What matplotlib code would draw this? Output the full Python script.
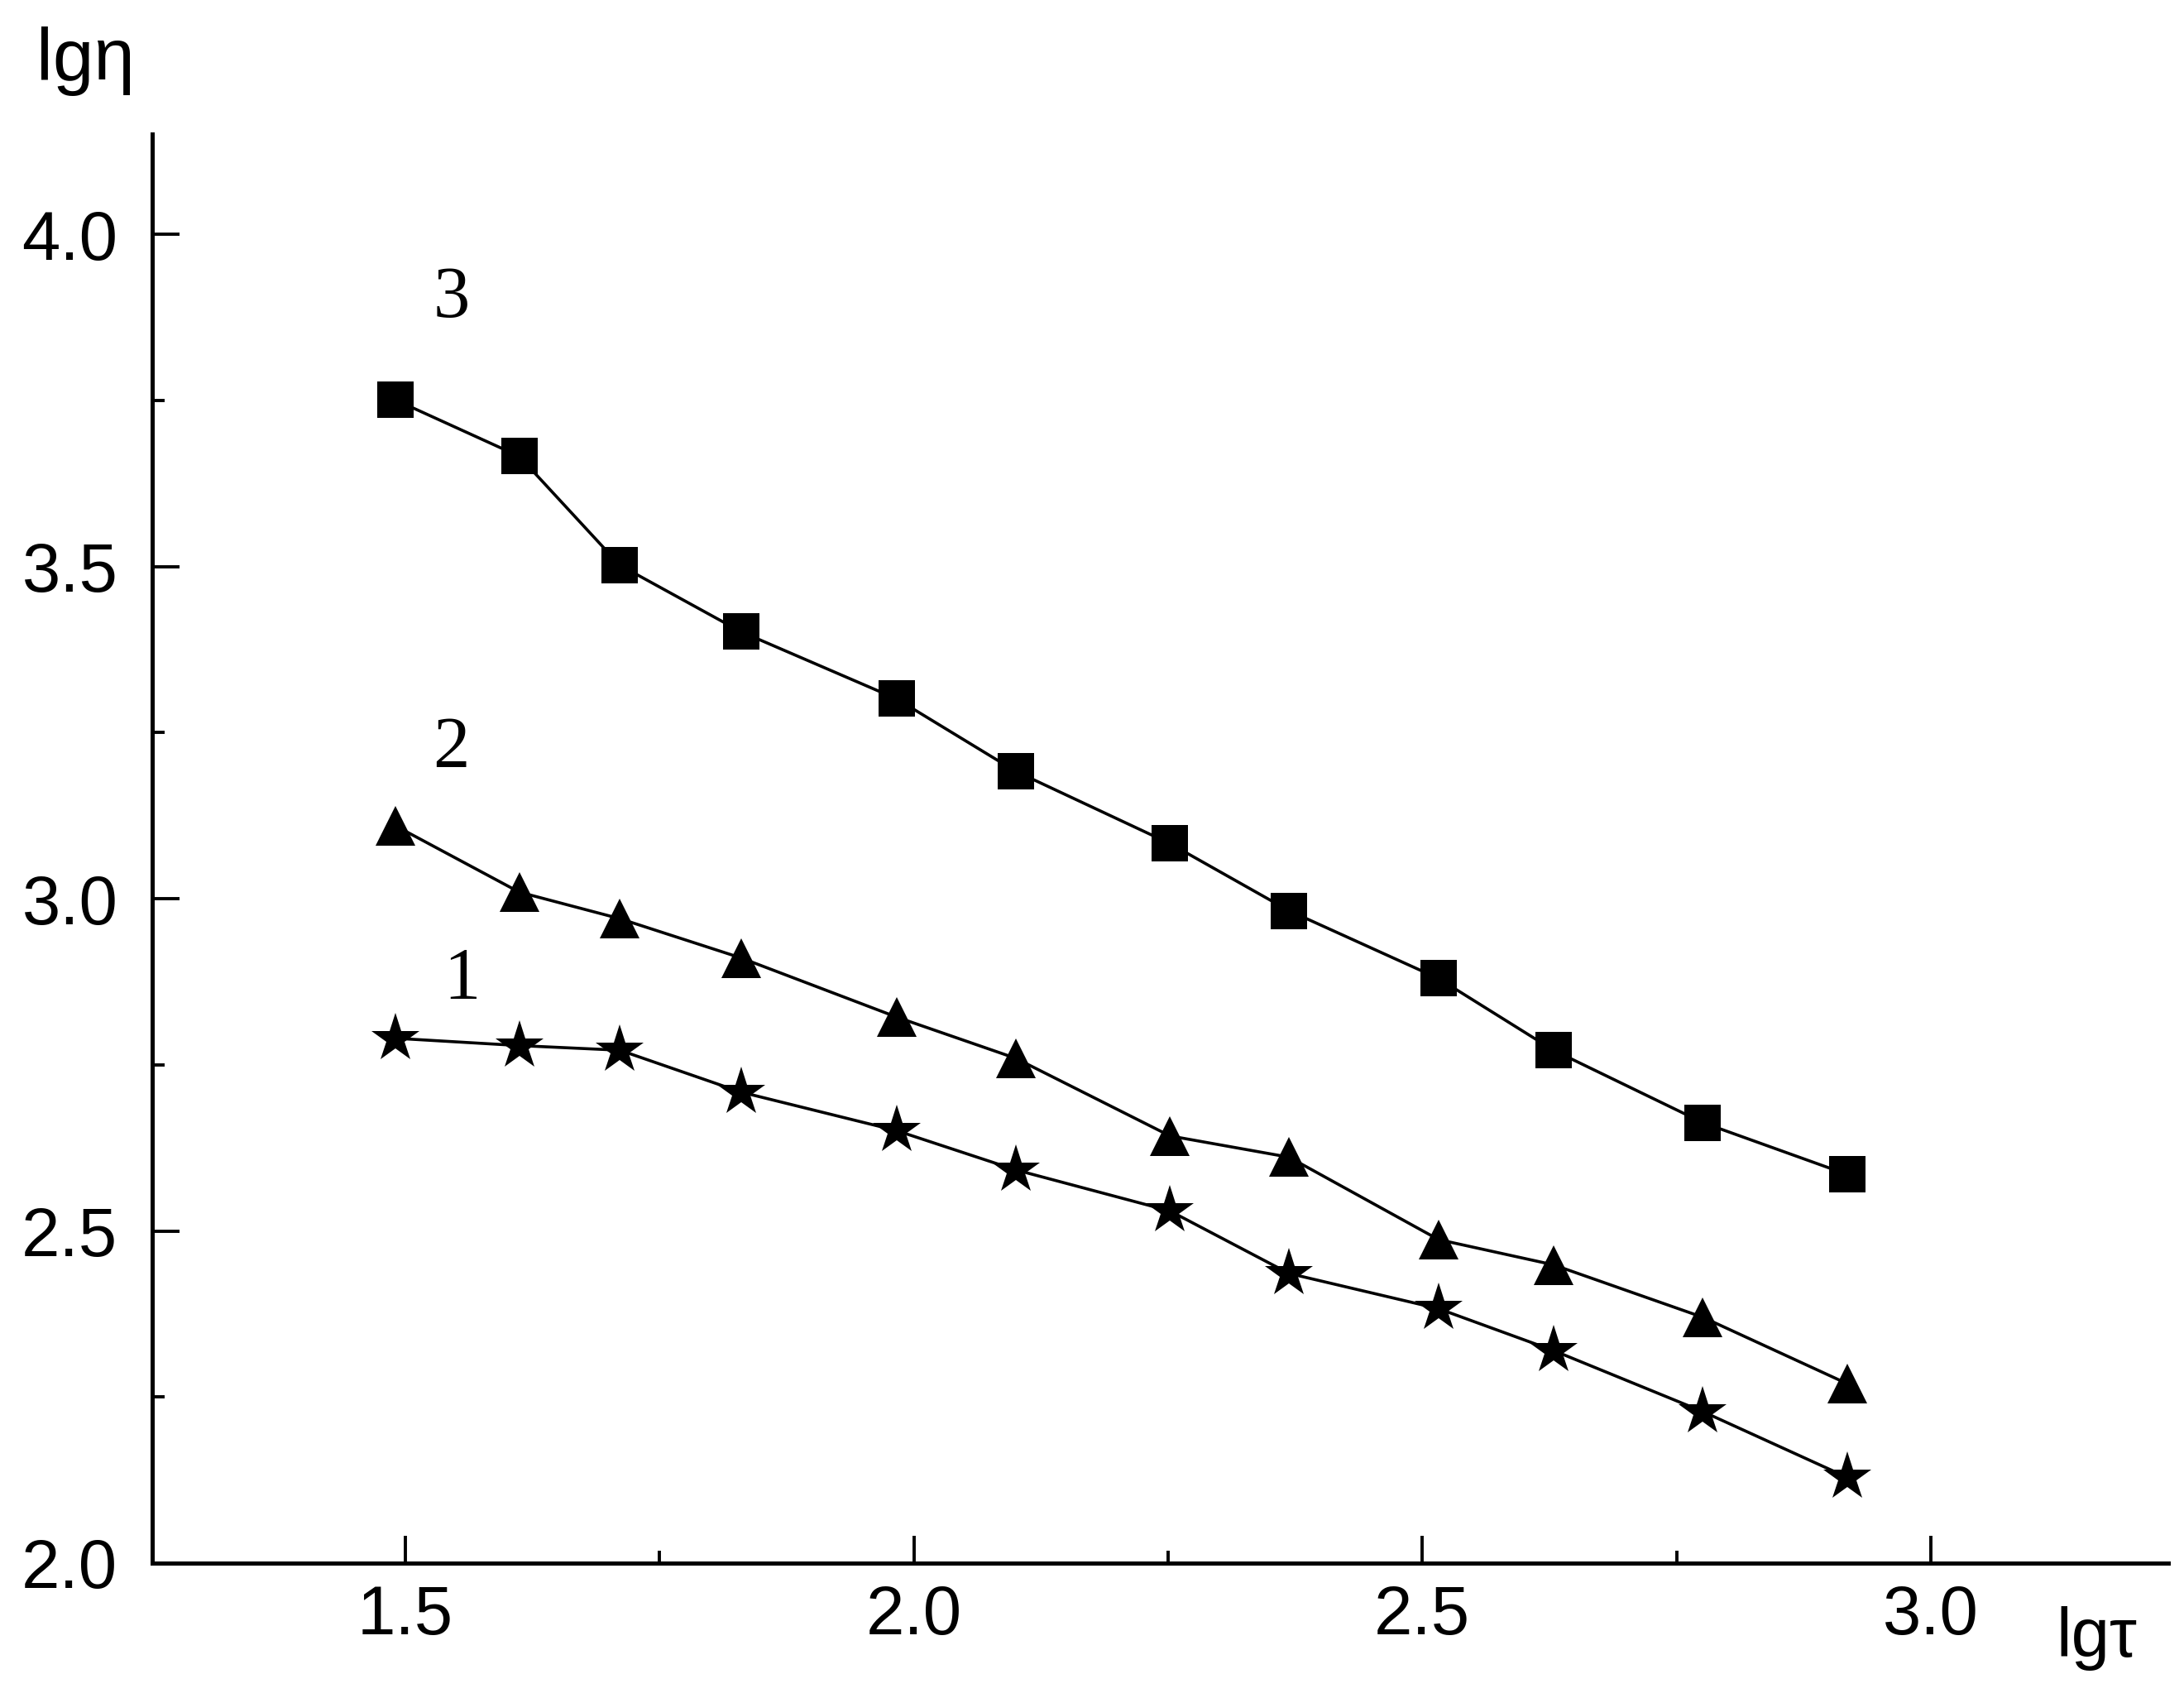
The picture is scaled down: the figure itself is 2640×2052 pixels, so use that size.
import matplotlib
matplotlib.use("Agg")
import matplotlib.pyplot as plt
from matplotlib.ticker import MultipleLocator, FormatStrFormatter

# ---- data ----
lg_tau = [1.490, 1.612, 1.711, 1.830, 1.983, 2.100, 2.252, 2.369, 2.516, 2.629, 2.776, 2.918]
curve1 = [2.790, 2.779, 2.772, 2.709, 2.651, 2.592, 2.530, 2.436, 2.383, 2.320, 2.228, 2.129]
curve2 = [3.110, 3.010, 2.970, 2.911, 2.822, 2.760, 2.643, 2.611, 2.487, 2.449, 2.370, 2.270]
curve3 = [3.751, 3.666, 3.502, 3.402, 3.301, 3.192, 3.083, 2.982, 2.880, 2.772, 2.663, 2.585]
curve_labels = ["1", "2", "3"]
label_pos = [(1.556, 2.877), (1.545, 3.225), (1.545, 3.903)]
x_ticks = [1.5, 2.0, 2.5, 3.0]
y_ticks = [2.0, 2.5, 3.0, 3.5, 4.0]
x_title = "lgτ"
y_title = "lgη"

plt.rcParams['font.family'] = ['Liberation Sans', 'DejaVu Sans']

fig = plt.figure(figsize=(26.4, 20.52), dpi=100)
ax = fig.add_axes([0.0697, 0.07944, 0.9231, 0.8416])

lw = 2.6
ax.plot(lg_tau, curve1, color='black', lw=lw, marker='*', ms=44, mec='black', mew=0, zorder=3)
ax.plot(lg_tau, curve2, color='black', lw=lw, marker='^', ms=35, mec='black', mew=0, zorder=3)
ax.plot(lg_tau, curve3, color='black', lw=lw, marker='s', ms=31, mec='black', mew=0, zorder=3)

for lab, (x, y) in zip(curve_labels, label_pos):
    ax.text(x, y, lab, ha='center', va='center', fontsize=64,
            family=['Liberation Serif', 'DejaVu Serif'], color='black')

ax.set_xlim(1.2511, 3.2336)
ax.set_ylim(2.0, 4.151)

for s in ['top', 'right']:
    ax.spines[s].set_visible(False)
for s in ['left', 'bottom']:
    ax.spines[s].set_linewidth(3.6)

ax.set_xticks(x_ticks)
ax.set_yticks(y_ticks)
ax.xaxis.set_minor_locator(MultipleLocator(0.25))
ax.yaxis.set_minor_locator(MultipleLocator(0.25))
ax.xaxis.set_major_formatter(FormatStrFormatter('%.1f'))
ax.yaxis.set_major_formatter(FormatStrFormatter('%.1f'))

ax.tick_params(axis='both', which='major', direction='in', length=24, width=2.8,
               labelsize=60, colors='black')
ax.tick_params(axis='both', which='minor', direction='in', length=11, width=2.8)
ax.tick_params(axis='y', which='major', pad=30)
ax.tick_params(axis='x', which='major', pad=18)

fig.text(44 / 2640, 1 - 97 / 2052, y_title, fontsize=64, ha='left', va='baseline')
fig.text(2485 / 2640, 1 - 2002 / 2052, x_title, fontsize=60, ha='left', va='baseline')

fig.savefig("out.png", dpi=100, facecolor='white')
